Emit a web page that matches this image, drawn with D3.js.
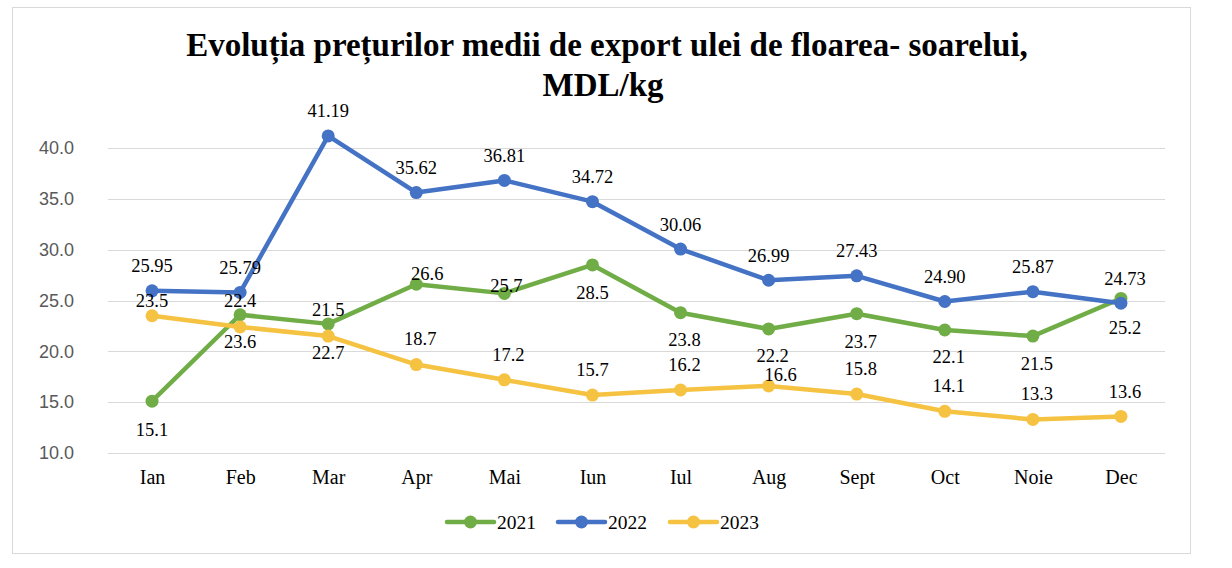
<!DOCTYPE html>
<html><head><meta charset="utf-8">
<script src="https://cdn.jsdelivr.net/npm/d3@7/dist/d3.min.js"></script>
<style>body{margin:0;background:#fff}svg{display:block}</style>
</head><body>
<svg id="c" width="1232" height="568"></svg>
<script>
const months = ["Ian","Feb","Mar","Apr","Mai","Iun","Iul","Aug","Sept","Oct","Noie","Dec"];
const v2021 = [15.1,23.6,22.7,26.6,25.7,28.5,23.8,22.2,23.7,22.1,21.5,25.2];
const v2022 = [25.95,25.79,41.19,35.62,36.81,34.72,30.06,26.99,27.43,24.90,25.87,24.73];
const v2023 = [23.5,22.4,21.5,18.7,17.2,15.7,16.2,16.6,15.8,14.1,13.3,13.6];
const yTicks = [10,15,20,25,30,35,40];
const seriesNames = ["2021","2022","2023"];
const decimals = [1,2,1];

// label offsets (layout only): [dx, dy] relative to point, label vertical centre
const labelOffsets = [
  [[0,28],[0,27],[0,29],[11,-11],[2,-8],[0,28],[4,27],[4,27],[4,28],[4,27],[4,27],[4,29]],
  [[0,-25],[0,-25],[0,-25],[0,-25],[0,-25],[0,-25],[0,-25],[0,-25],[0,-25],[0,-25],[0,-25],[4,-25]],
  [[0,-15],[0,-26],[0,-27],[4,-26],[4,-25],[0,-26],[4,-25],[12,-11],[4,-26],[4,-26],[4,-26],[4,-25]]
];
const colors = ["#70AD47","#4472C4","#F5C242"];

const svg = d3.select("#c");
svg.append("rect").attr("x",12.5).attr("y",7.5).attr("width",1178).attr("height",546)
  .attr("fill","#fff").attr("stroke","#d9d9d9").attr("stroke-width",1);

const x = d3.scalePoint().domain(months).range([108,1165]).padding(0.5);
const y = d3.scaleLinear().domain([10,40]).range([453,148]);

// title
const title = svg.append("text").attr("text-anchor","middle")
  .attr("font-family","'Liberation Serif','Times New Roman',serif").attr("font-weight","bold")
  .attr("font-size",33).attr("fill","#000");
title.append("tspan").attr("x",607).attr("y",56).text("Evoluția prețurilor medii de export ulei de floarea- soarelui,");
title.append("tspan").attr("x",603).attr("y",96).text("MDL/kg");

// gridlines
svg.append("g").selectAll("line").data(yTicks).join("line")
  .attr("x1",108).attr("x2",1165).attr("y1",d=>Math.round(y(d))+0.5).attr("y2",d=>Math.round(y(d))+0.5)
  .attr("stroke","#d9d9d9").attr("stroke-width",1);

// y axis
const yAxis = svg.append("g").attr("transform","translate(108,0)")
  .call(d3.axisLeft(y).tickValues(yTicks).tickFormat(d3.format(".1f")).tickSize(0).tickPadding(34));
yAxis.select(".domain").remove();
yAxis.selectAll("text").attr("font-family","'Liberation Sans',Arial,sans-serif").attr("font-size",18).attr("fill","#595959");

// x axis
const xAxis = svg.append("g").attr("transform","translate(0,453)")
  .call(d3.axisBottom(x).tickSize(0).tickPadding(17));
xAxis.select(".domain").remove();
xAxis.selectAll("text").attr("font-family","'Liberation Serif','Times New Roman',serif").attr("font-size",20).attr("fill","#000");

const allSeries = [v2021, v2022, v2023];
const line = d3.line().x((d,i)=>x(months[i])).y(d=>y(d));

allSeries.forEach((vals,s)=>{
  const g = svg.append("g");
  g.append("path").datum(vals).attr("d",line).attr("fill","none")
    .attr("stroke",colors[s]).attr("stroke-width",4.5).attr("stroke-linejoin","round");
  g.selectAll("circle").data(vals).join("circle")
    .attr("cx",(d,i)=>x(months[i])).attr("cy",d=>y(d)).attr("r",6.5).attr("fill",colors[s]);
});

allSeries.forEach((vals,s)=>{
  svg.append("g").selectAll("text").data(vals).join("text")
    .attr("x",(d,i)=>x(months[i])+labelOffsets[s][i][0])
    .attr("y",(d,i)=>y(d)+labelOffsets[s][i][1])
    .attr("dy","0.35em").attr("text-anchor","middle")
    .attr("font-family","'Liberation Serif','Times New Roman',serif").attr("font-size",18.5).attr("fill","#000")
    .text(d=>d.toFixed(decimals[s]));
});

// legend
const legX = [447,558,670];
const leg = svg.append("g");
seriesNames.forEach((n,s)=>{
  const g = leg.append("g").attr("transform",`translate(${legX[s]},522)`);
  g.append("line").attr("x1",0).attr("x2",47).attr("y1",0).attr("y2",0)
    .attr("stroke",colors[s]).attr("stroke-width",4.5).attr("stroke-linecap","round");
  g.append("circle").attr("cx",23.5).attr("cy",0).attr("r",6.5).attr("fill",colors[s]);
  g.append("text").attr("x",50).attr("y",0).attr("dy","0.35em")
    .attr("font-family","'Liberation Serif','Times New Roman',serif").attr("font-size",19.5).attr("fill","#000").text(n);
});
</script>
</body></html>
